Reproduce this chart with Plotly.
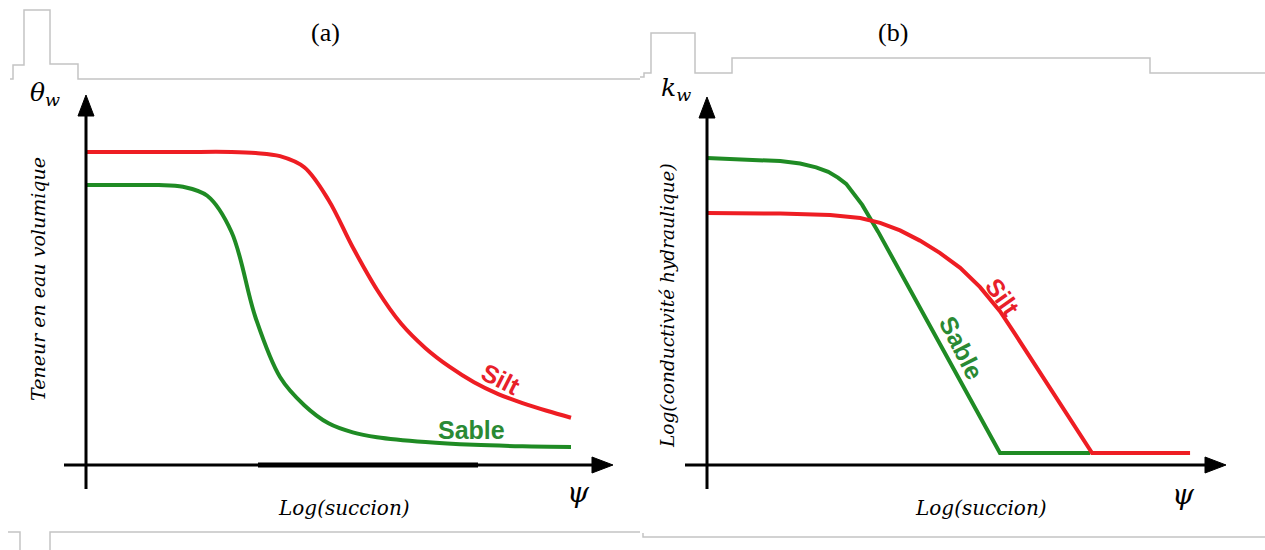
import plotly.graph_objects as go

W, H = 1265, 550

# (a) Courbes de rétention : teneur en eau volumique vs log(succion)
log_suction_silt_a = [0, 1, 2, 3, 3.5, 4, 4.5, 5, 5.5, 6, 6.5, 7, 7.5, 8, 8.5, 9, 9.5, 10]
theta_silt = [0.450, 0.450, 0.450, 0.450, 0.4485, 0.444, 0.428, 0.381, 0.313, 0.252,
              0.203, 0.168, 0.141, 0.119, 0.102, 0.089, 0.078, 0.068]
log_suction_sable_a = [0, 1, 1.5, 2, 2.5, 3, 3.5, 4, 4.5, 5, 5.5, 6, 7, 8, 9, 10]
theta_sable = [0.4025, 0.4025, 0.4025, 0.400, 0.387, 0.335, 0.211, 0.1265, 0.086,
               0.060, 0.047, 0.040, 0.033, 0.029, 0.027, 0.026]

# (b) Log(conductivité hydraulique) vs log(succion)
log_suction_sable_b = [0, 0.89, 1.51, 1.92, 2.25, 2.50, 2.70, 2.87, 3.03, 3.20, 3.36,
                       3.53, 6.04, 7.90]
logk_sable = [10.23, 10.18, 10.13, 10.05, 9.92, 9.77, 9.58, 9.37, 9.05, 8.67, 8.23,
              7.77, 0.40, 0.40]
log_suction_silt_b = [0, 1.51, 2.54, 3.16, 3.57, 3.98, 4.39, 4.80, 5.22, 5.63, 6.04,
                      6.35, 7.94, 9.96]
logk_silt = [8.40, 8.38, 8.33, 8.23, 8.07, 7.82, 7.48, 7.07, 6.57, 5.93, 5.13, 4.37,
             0.40, 0.40]

RED = "#ee1d23"
GREEN = "#1f8b24"
RED_TXT = "#e8202a"
GREEN_TXT = "#2a8a34"
GRAY = "#c4c4c4"

# pixel layout of each panel: axis origin and pixels per data unit
A_X0, A_Y0, A_SX, A_SY = 86, 465, 48.5, 695.6
B_X0, B_Y0, B_SX, B_SY = 707, 465, 48.5, 30.0
A_LEFT, A_RIGHT = 0, 640
B_LEFT, B_RIGHT = 640, 1265


def px(x):
    return x / W


def py(y):
    return 1 - y / H


fig = go.Figure()

fig.add_trace(go.Scatter(x=log_suction_silt_a, y=theta_silt, mode="lines",
                         line=dict(color=RED, width=4, shape="spline"),
                         xaxis="x", yaxis="y", hoverinfo="skip"))
fig.add_trace(go.Scatter(x=log_suction_sable_a, y=theta_sable, mode="lines",
                         line=dict(color=GREEN, width=4, shape="spline"),
                         xaxis="x", yaxis="y", hoverinfo="skip"))
fig.add_trace(go.Scatter(x=log_suction_sable_b, y=logk_sable, mode="lines",
                         line=dict(color=GREEN, width=4, shape="linear"),
                         xaxis="x2", yaxis="y2", hoverinfo="skip"))
fig.add_trace(go.Scatter(x=log_suction_silt_b, y=logk_silt, mode="lines",
                         line=dict(color=RED, width=4, shape="linear"),
                         xaxis="x2", yaxis="y2", hoverinfo="skip"))

hidden = dict(visible=False, showgrid=False, zeroline=False, fixedrange=True)
fig.update_layout(
    xaxis=dict(domain=[px(A_LEFT), px(A_RIGHT)],
               range=[(A_LEFT - A_X0) / A_SX, (A_RIGHT - A_X0) / A_SX], **hidden),
    yaxis=dict(domain=[0, 1], range=[(A_Y0 - H) / A_SY, A_Y0 / A_SY], **hidden),
    xaxis2=dict(domain=[px(B_LEFT), px(B_RIGHT)],
                range=[(B_LEFT - B_X0) / B_SX, (B_RIGHT - B_X0) / B_SX], **hidden),
    yaxis2=dict(domain=[0, 1], range=[(B_Y0 - H) / B_SY, B_Y0 / B_SY],
                anchor="x2", **hidden),
)

shapes = []


def pline(x0, y0, x1, y1, color="black", width=3):
    shapes.append(dict(type="line", xref="paper", yref="paper",
                       x0=px(x0), y0=py(y0), x1=px(x1), y1=py(y1),
                       line=dict(color=color, width=width)))


def ppath(points, color, width, fill=None):
    d = "M " + " L ".join(f"{px(a):.5f},{py(b):.5f}" for a, b in points)
    if fill:
        d += " Z"
    shapes.append(dict(type="path", xref="paper", yref="paper", path=d,
                       fillcolor=fill if fill else "rgba(0,0,0,0)",
                       line=dict(color=color, width=width)))


# axes with arrowheads
for (ox, oy, xl, xt, yb, yt) in [(A_X0, A_Y0, 64, 613, 489, 95),
                                 (B_X0, B_Y0, 685, 1226, 489, 97)]:
    pline(ox, yb, ox, yt + 14)
    ppath([(ox, yt), (ox - 8, yt + 21), (ox + 8, yt + 21)], "black", 1, fill="black")
    pline(xl, oy, xt - 14, oy)
    ppath([(xt, oy), (xt - 21, oy - 8), (xt - 21, oy + 8)], "black", 1, fill="black")

# heavier stretch on the abscissa of panel (a)
pline(258, 465, 478, 465, width=5)

# thin gray frame lines
ppath([(10, 79), (13, 79), (13, 65), (24, 65), (24, 10), (50, 10), (50, 64),
       (78, 64), (78, 79), (640, 79)], GRAY, 1.5)
ppath([(640, 77), (644, 77), (644, 73), (651, 73), (651, 33), (695, 33), (695, 73),
       (732, 73), (732, 58), (1150, 58), (1150, 73), (1265, 73)], GRAY, 1.5)
ppath([(8, 532), (20, 532), (20, 550)], GRAY, 1.5)
ppath([(50, 550), (50, 532), (640, 532)], GRAY, 1.5)
ppath([(643, 533), (643, 537), (1265, 537)], GRAY, 1.5)

fig.update_layout(shapes=shapes)

SERIF = "DejaVu Serif"
ann = []


def ptext(text, x, y, size, color="black", family=SERIF, angle=0):
    ann.append(dict(text=text, x=px(x), y=py(y), xref="paper", yref="paper",
                    showarrow=False, xanchor="center", yanchor="middle",
                    textangle=angle, font=dict(family=family, size=size, color=color)))


ptext("(a)", 325, 32, 26, family="Liberation Serif")
ptext("(b)", 893, 32, 26, family="Liberation Serif")
ptext("<i>θ<sub>w</sub></i>", 45, 94, 25)
ptext("<i>k<sub>w</sub></i>", 676, 89, 25)
ptext("<i>Teneur en eau volumique</i>", 38, 279, 19, angle=-90)
ptext("<i>Log(conductivité hydraulique)</i>", 667, 305, 18.5, angle=-90)
ptext("<i>Log(succion)</i>", 344, 508, 20)
ptext("<i>Log(succion)</i>", 981, 508, 20)
ptext("<i>ψ</i>", 578, 492, 28)
ptext("<i>ψ</i>", 1183, 494, 28)


def dtext(text, x, y, xr, yr, color, angle):
    ann.append(dict(text=f"<b>{text}</b>", x=x, y=y, xref=xr, yref=yr,
                    showarrow=False, xanchor="center", yanchor="middle",
                    textangle=angle,
                    font=dict(family="Liberation Sans", size=25, color=color)))


# curve labels placed beside their curves
dtext("Silt", 8.55, 0.123, "x", "y", RED_TXT, 27)
dtext("Sable", 7.95, 0.05, "x", "y", GREEN_TXT, 0)
dtext("Silt", 6.10, 5.60, "x2", "y2", RED_TXT, 55)
dtext("Sable", 5.25, 3.90, "x2", "y2", GREEN_TXT, 63)

fig.update_layout(annotations=ann, width=W, height=H,
                  margin=dict(l=0, r=0, t=0, b=0),
                  paper_bgcolor="white", plot_bgcolor="white",
                  showlegend=False)

fig.write_html("out.html", config={"displayModeBar": False})
